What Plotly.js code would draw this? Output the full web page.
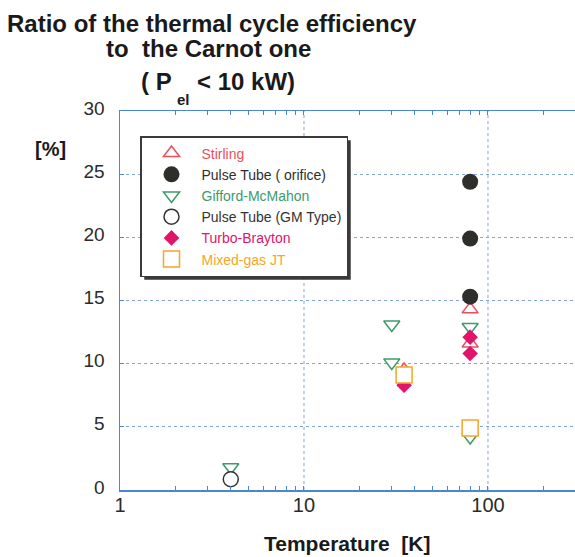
<!DOCTYPE html>
<html>
<head>
<meta charset="utf-8">
<script src="https://cdn.plot.ly/plotly-3.0.1.min.js"></script>
<style>
  html, body { margin: 0; padding: 0; background: #fff; }
  #chart { width: 575px; height: 557px; }
</style>
</head>
<body>
<div id="chart"></div>
<script>
// Efficiency of small cryocoolers (P_el < 10 kW) as a percentage of Carnot,
// plotted against cold-end temperature.

// Stirling
const stirlingT   = [35, 80, 80];
const stirlingEff = [9.5, 14.3, 11.6];
// Pulse tube, orifice type
const ptOrificeT   = [80, 80, 80];
const ptOrificeEff = [24.4, 19.9, 15.3];
// Gifford-McMahon
const gmT   = [4, 30, 30, 80, 80];
const gmEff = [1.8, 13.1, 10.1, 12.9, 4.2];
// Pulse tube, GM type
const ptGmT   = [4];
const ptGmEff = [0.85];
// Turbo-Brayton
const braytonT   = [35, 80, 80];
const braytonEff = [8.3, 12.1, 10.8];
// Mixed-gas Joule-Thomson
const jtT   = [35, 80];
const jtEff = [9.1, 4.9];

// Axis ticks
const xMajorTicks = [1, 10, 100];
const xMinorTicks = [2, 3, 4, 5, 6, 7, 8, 9, 20, 30, 40, 50, 60, 70, 80, 90, 200];
const yTicks = [0, 5, 10, 15, 20, 25, 30];

// Plot-area geometry in page pixels, used to place free text
const L = 120, R = 575, T = 111, B = 490;
const px = x => (x - L) / (R - L);
const py = y => (B - y) / (B - T);

const blue = '#4a86d4';
const gridBlue = '#7fa4e0';
const ink = '#2b2b2b';

const colors = {
  stirling: '#e8505a',
  ptOrifice: '#2e2e2b',
  gm: '#3d9a6c',
  ptGm: '#333333',
  brayton: '#e0156a',
  jt: '#f5a623'
};

function label(text, color) {
  return '<span style="color:' + color + '">' + text + '</span>';
}

const traces = [
  {
    x: gmT, y: gmEff, name: label('Gifford-McMahon', colors.gm), legendrank: 3,
    type: 'scatter', mode: 'markers', cliponaxis: false,
    marker: { symbol: 'triangle-down', size: 14, color: '#ffffff', line: { color: colors.gm, width: 1.5 } }
  },
  {
    x: stirlingT, y: stirlingEff, name: label('Stirling', colors.stirling), legendrank: 1,
    type: 'scatter', mode: 'markers', cliponaxis: false,
    marker: { symbol: 'triangle-up', size: 14, color: '#ffffff', line: { color: colors.stirling, width: 1.5 } }
  },
  {
    x: ptGmT, y: ptGmEff, name: label('Pulse Tube (GM Type)', colors.ptGm), legendrank: 4,
    type: 'scatter', mode: 'markers', cliponaxis: false,
    marker: { symbol: 'circle', size: 15, color: '#ffffff', line: { color: colors.ptGm, width: 1.5 } }
  },
  {
    x: braytonT, y: braytonEff, name: label('Turbo-Brayton', colors.brayton), legendrank: 5,
    type: 'scatter', mode: 'markers', cliponaxis: false,
    marker: { symbol: 'diamond', size: 12, color: colors.brayton, line: { width: 0 } }
  },
  {
    x: ptOrificeT, y: ptOrificeEff, name: label('Pulse Tube ( orifice)', colors.ptOrifice), legendrank: 2,
    type: 'scatter', mode: 'markers', cliponaxis: false,
    marker: { symbol: 'circle', size: 16, color: colors.ptOrifice, line: { width: 0 } }
  },
  {
    x: jtT, y: jtEff, name: label('Mixed-gas JT', colors.jt), legendrank: 6,
    type: 'scatter', mode: 'markers', cliponaxis: false,
    marker: { symbol: 'square', size: 16, color: '#ffffff', line: { color: colors.jt, width: 1.5 } }
  }
];

const boldFont = { family: 'Liberation Sans, Arial, sans-serif', color: '#1a1a1a' };

const annotations = [
  { text: '<b>Ratio of the thermal cycle efficiency</b>', x: px(5), y: py(23), xanchor: 'left', yanchor: 'middle',
    font: Object.assign({ size: 24 }, boldFont) },
  { text: '<b>to\u00a0 the Carnot one</b>', x: px(104), y: py(49), xanchor: 'left', yanchor: 'middle',
    font: Object.assign({ size: 24 }, boldFont) },
  { text: '<b>( P</b>', x: px(139), y: py(81), xanchor: 'left', yanchor: 'middle',
    font: Object.assign({ size: 24 }, boldFont) },
  { text: '<b>el</b>', x: px(175), y: py(100), xanchor: 'left', yanchor: 'middle',
    font: Object.assign({ size: 15 }, boldFont) },
  { text: '<b>&lt; 10 kW)</b>', x: px(195), y: py(81), xanchor: 'left', yanchor: 'middle',
    font: Object.assign({ size: 24 }, boldFont) },
  { text: '<b>[%]</b>', x: px(50), y: py(149), xanchor: 'center', yanchor: 'middle',
    font: Object.assign({ size: 20 }, boldFont) },
  { text: '<b>Temperature\u00a0 [K]</b>', x: px(347), y: py(543), xanchor: 'center', yanchor: 'middle',
    font: Object.assign({ size: 21 }, boldFont) }
].map(a => Object.assign({ xref: 'paper', yref: 'paper', showarrow: false }, a));

// Dotted vertical grid lines at the decades (the tick list also carries minor ticks)
const shapes = xMajorTicks.filter(v => v > 1).map(v => ({
  type: 'line', xref: 'x', yref: 'paper', layer: 'below',
  x0: v, x1: v, y0: 0, y1: 1,
  line: { color: gridBlue, width: 1, dash: 'dot' }
}));

const xTickVals = xMajorTicks.concat(xMinorTicks);
const xTickText = xTickVals.map(v => xMajorTicks.includes(v) ? String(v) : '');

const layout = {
  width: 575, height: 557,
  margin: { l: L, r: 575 - R, t: T, b: 557 - B },
  paper_bgcolor: '#ffffff', plot_bgcolor: '#ffffff',
  font: { family: 'Liberation Sans, Arial, sans-serif', color: ink },
  showlegend: true,
  legend: {
    x: px(140), y: py(136), xanchor: 'left', yanchor: 'top',
    bgcolor: '#ffffff', bordercolor: '#3a3a3a', borderwidth: 1.5,
    font: { size: 14, family: 'Liberation Sans, Arial, sans-serif' },
    itemwidth: 50, tracegroupgap: 0
  },
  xaxis: {
    type: 'log', range: [0, 2.473],
    tickmode: 'array', tickvals: xTickVals, ticktext: xTickText,
    ticks: 'inside', ticklen: 4, tickwidth: 1, tickcolor: blue,
    showline: true, linecolor: blue, linewidth: 1.5, mirror: 'ticks',
    showgrid: false, zeroline: false,
    tickfont: { size: 20, color: ink },
    ticklabelstandoff: -4
  },
  yaxis: {
    range: [0, 30],
    tickmode: 'array', tickvals: yTicks,
    ticks: 'inside', ticklen: 4, tickwidth: 1, tickcolor: blue,
    showline: true, linecolor: blue, linewidth: 1.5, mirror: false,
    showgrid: true, gridcolor: gridBlue, gridwidth: 1, griddash: 'dot',
    zeroline: false,
    tickfont: { size: 19, color: ink },
    ticklabelstandoff: 10,
    ticklabelshift: -3
  },
  annotations: annotations,
  shapes: shapes
};

const gd = document.getElementById('chart');
Plotly.newPlot(gd, traces, layout, { displayModeBar: false, staticPlot: true }).then(() => {
  // Drop shadow: a dark box offset from the rendered legend frame
  const bg = gd.querySelector('.legend .bg');
  if (!bg) return;
  const host = gd.getBoundingClientRect();
  const r = bg.getBoundingClientRect();
  const off = 3.5;
  const shadow = {
    type: 'rect', xref: 'paper', yref: 'paper', layer: 'above',
    x0: px(r.left - host.left + off), x1: px(r.right - host.left + off),
    y0: py(r.bottom - host.top + off), y1: py(r.top - host.top + off),
    fillcolor: '#3a3a3a', line: { width: 0 }
  };
  return Plotly.relayout(gd, { shapes: shapes.concat([shadow]) });
});
</script>
</body>
</html>
